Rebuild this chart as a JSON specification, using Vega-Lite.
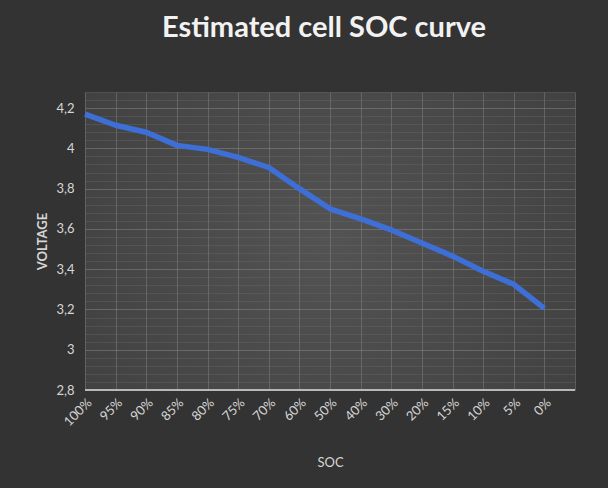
{
  "$schema": "https://vega.github.io/schema/vega-lite/v6.json",
  "width": 490,
  "height": 298,
  "autosize": "none",
  "padding": {"left": 85, "top": 92, "right": 33, "bottom": 98},
  "background": "#333333",
  "title": {
    "text": "Estimated cell SOC curve",
    "font": "Lato",
    "fontSize": 29,
    "fontWeight": "bold",
    "color": "#f2f2f2",
    "anchor": "middle",
    "baseline": "alphabetic",
    "offset": 20,
    "dx": -6
  },
  "config": {
    "view": {
      "stroke": null,
      "fill": {"gradient": "radial", "x1": 0.5, "y1": 0.5, "r1": 0, "x2": 0.5, "y2": 0.5, "r2": 0.75,
        "stops": [{"offset": 0, "color": "#535353"}, {"offset": 1, "color": "#3c3c3c"}]}
    },
    "axis": {
      "labelFont": "Lato",
      "titleFont": "Lato",
      "labelColor": "#d6d6d6",
      "titleColor": "#d6d6d6",
      "labelFontSize": 13,
      "titleFontSize": 13,
      "ticks": false,
      "domain": false
    }
  },
  "data": {
    "values": [
      {"soc": "100%", "voltage": 4.17},
      {"soc": "95%", "voltage": 4.115},
      {"soc": "90%", "voltage": 4.08},
      {"soc": "85%", "voltage": 4.015},
      {"soc": "80%", "voltage": 3.995},
      {"soc": "75%", "voltage": 3.955},
      {"soc": "70%", "voltage": 3.905},
      {"soc": "60%", "voltage": 3.8},
      {"soc": "50%", "voltage": 3.7},
      {"soc": "40%", "voltage": 3.65},
      {"soc": "30%", "voltage": 3.595},
      {"soc": "20%", "voltage": 3.53},
      {"soc": "15%", "voltage": 3.465},
      {"soc": "10%", "voltage": 3.39},
      {"soc": "5%", "voltage": 3.325},
      {"soc": "0%", "voltage": 3.205}
    ]
  },
  "layer": [
    {
      "mark": {"type": "line", "color": "#3d6fd6", "strokeWidth": 5.5, "strokeJoin": "round"},
      "encoding": {
        "x": {
          "field": "soc",
          "type": "ordinal",
          "sort": null,
          "scale": {"type": "point", "padding": 0,
            "domain": ["100%","95%","90%","85%","80%","75%","70%","60%","50%","40%","30%","20%","15%","10%","5%","0%"," "]},
          "axis": {
            "title": "SOC",
            "labelAngle": -45,
            "labelPadding": 6,
            "titlePadding": 28,
            "titleFontWeight": "normal",
            "grid": true,
            "gridColor": "#8a8a8a",
            "gridOpacity": 0.45,
            "gridWidth": 1
          }
        },
        "y": {
          "field": "voltage",
          "type": "quantitative",
          "scale": {"domain": [2.8, 4.28], "nice": false, "zero": false},
          "axis": {
            "title": "VOLTAGE",
            "titleFontWeight": "bold",
            "titlePadding": 6,
            "labelPadding": 11,
            "tickCount": 200,
            "labelOverlap": false,
            "values": [2.8,2.84,2.88,2.92,2.96,3.0,3.04,3.08,3.12,3.16,3.2,3.24,3.28,3.32,3.36,3.4,3.44,3.48,3.52,3.56,3.6,3.64,3.68,3.72,3.76,3.8,3.84,3.88,3.92,3.96,4.0,4.04,4.08,4.12,4.16,4.2,4.24,4.28],
            "labelExpr": "abs(datum.value*5 - round(datum.value*5)) < 0.001 ? replace(format(datum.value, '.1~f'), '.', ',') : ''",
            "grid": true,
            "gridColor": {"condition": {"test": "abs(datum.value*5 - round(datum.value*5)) < 0.001", "value": "#8a8a8a"}, "value": "#6e6e6e"},
            "gridOpacity": {"condition": {"test": "abs(datum.value*5 - round(datum.value*5)) < 0.001", "value": 0.5}, "value": 0.35}
          }
        }
      }
    },
    {
      "mark": {"type": "rule", "color": "#b8b8b8", "strokeWidth": 2},
      "encoding": {"y": {"datum": 2.8}}
    }
  ]
}
